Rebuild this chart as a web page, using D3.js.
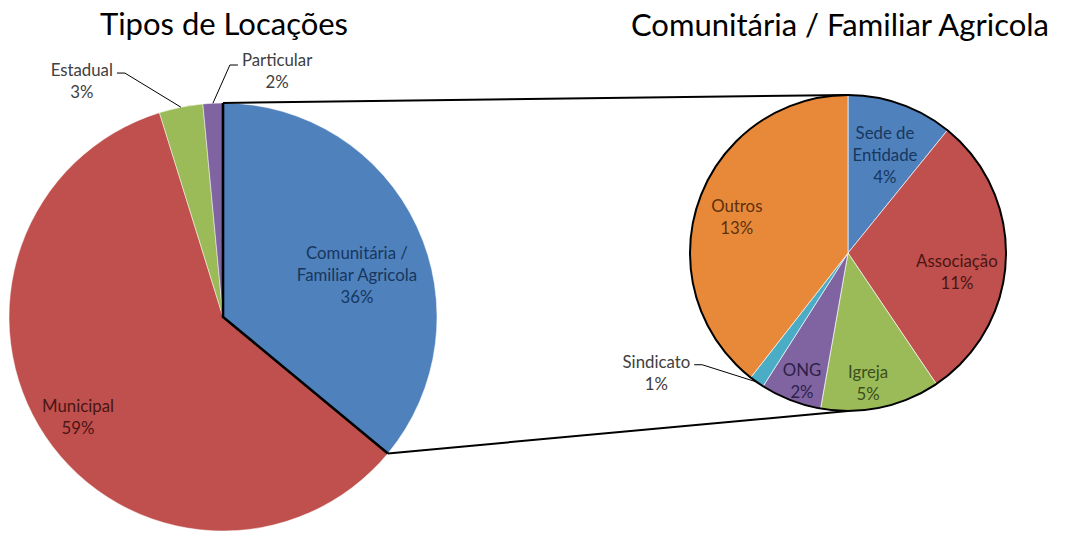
<!DOCTYPE html>
<html><head><meta charset="utf-8">
<script src="https://cdn.jsdelivr.net/npm/d3@7"></script>
<style>
body{margin:0;background:#fff}
svg{display:block}
text{font-family:Lato,"Open Sans",sans-serif}
</style>
</head><body>
<svg id="c" width="1068" height="536"></svg>
<script>
// ---- data ----
const mainTitle = "Tipos de Locações";
const subTitle = "Comunitária / Familiar Agricola";
const mainCategories = ["Comunitária / Familiar Agricola", "Municipal", "Estadual", "Particular"];
const mainValues = [36, 59.2, 3.3, 1.5];
const mainLabels = ["36%", "59%", "3%", "2%"];
const subCategories = ["Sede de Entidade", "Associação", "Igreja", "ONG", "Sindicato", "Outros"];
const subValues = [3.9, 10.7, 4.4, 2.25, 0.55, 14.2];
const subLabels = ["4%", "11%", "5%", "2%", "1%", "13%"];

// ---- layout / style ----
const mainColors = ["#4F81BD", "#C0504D", "#9BBB59", "#8064A2"];
const mainText = ["#17375E", "#4a1514", "#404040", "#404040"];
const subColors = ["#4F81BD", "#C0504D", "#9BBB59", "#8064A2", "#4BACC6", "#E8893A"];
const subText = ["#17375E", "#4a1514", "#3b4f1c", "#2e2148", "#404040", "#5e300c"];
const mainLines = [["Comunitária /", "Familiar Agricola"], ["Municipal"], ["Estadual"], ["Particular"]];
const subLines = [["Sede de", "Entidade"], ["Associação"], ["Igreja"], ["ONG"], ["Sindicato"], ["Outros"]];
// label placement in polar terms: [angle deg, radius factor, leader]
const mainLabelPos = [[72.6, 0.656, false], [235.5, 0.822, false], [329.1, 1.285, true], [12.4, 1.177, true]];
const subLabelPos = [[20.6, 0.665, false], [100.1, 0.70, false], [171.2, 0.83, false], [199.8, 0.86, false], [238, 1.43, true], [288, 0.74, false]];

const M = {cx: 223, cy: 317, r: 214};
const S = {cx: 848, cy: 253, r: 158};
const fs = 16.8, lh = 22;

const svg = d3.select("#c");
const rad = d => d * Math.PI / 180;
const polar = (P, a, k) => [P.cx + k * P.r * Math.sin(a), P.cy - k * P.r * Math.cos(a)];

// titles
svg.append("text").attr("x", 224).attr("y", 35).attr("text-anchor", "middle")
  .attr("font-size", 31).attr("fill", "#000").text(mainTitle);
svg.append("text").attr("x", 840).attr("y", 36).attr("text-anchor", "middle")
  .attr("font-size", 31).attr("fill", "#000").text(subTitle);

const pie = d3.pie().sort(null).startAngle(0).endAngle(2 * Math.PI);

function drawPie(P, vals, colors, strokeCol, strokeW) {
  const arcs = pie(vals);
  const arc = d3.arc().innerRadius(0).outerRadius(P.r);
  const g = svg.append("g").attr("transform", `translate(${P.cx},${P.cy})`);
  g.selectAll("path").data(arcs).join("path")
    .attr("d", arc)
    .attr("fill", (d, i) => colors[i])
    .attr("stroke", strokeCol).attr("stroke-width", strokeW).attr("stroke-opacity", 0.8);
  return arcs;
}

const mainArcs = drawPie(M, mainValues, mainColors, "#fff", 0.6);
const subArcs = drawPie(S, subValues, subColors, "#fff", 0.8);

svg.append("circle").attr("cx", S.cx).attr("cy", S.cy).attr("r", S.r)
  .attr("fill", "none").attr("stroke", "#000").attr("stroke-width", 2);

const a0 = mainArcs[0].startAngle, a1 = mainArcs[0].endAngle;
const pTop = polar(M, a0, 1), pEnd = polar(M, a1, 1);
svg.append("path")
  .attr("d", d3.line()([pTop, [M.cx, M.cy], pEnd]))
  .attr("fill", "none").attr("stroke", "#000").attr("stroke-width", 2.6).attr("stroke-linejoin", "miter");
svg.append("path")
  .attr("d", d3.line()([pTop, polar(S, 0, 1)]))
  .attr("fill", "none").attr("stroke", "#000").attr("stroke-width", 2);
svg.append("path")
  .attr("d", d3.line()([pEnd, polar(S, Math.PI, 1)]))
  .attr("fill", "none").attr("stroke", "#000").attr("stroke-width", 2);

function drawLabels(P, arcs, lines, pcts, pos, colors) {
  arcs.forEach((d, i) => {
    const [ang, k, leader] = pos[i];
    const all = lines[i].concat([pcts[i]]);
    const [x, y] = polar(P, rad(ang), k);
    const n = all.length;
    const first = y - ((n - 1) * lh) / 2 + fs * 0.36;
    const t = svg.append("text").attr("text-anchor", "middle")
      .attr("font-size", fs).attr("fill", colors[i]);
    all.forEach((s, j) => t.append("tspan").attr("x", x).attr("y", first + j * lh).text(s));
    if (leader) {
      const mid = (d.startAngle + d.endAngle) / 2;
      const target = polar(P, mid, 1);
      const w = t.select("tspan").node().getComputedTextLength();
      const toRight = target[0] > x;
      const sx = toRight ? x + w / 2 + 4 : x - w / 2 - 4;
      const sy = first - fs * 0.3 + (toRight ? 2 : 4);
      const kx = toRight ? sx + 8 : sx - 8;
      svg.append("path").attr("d", d3.line()([[sx, sy], [kx, sy], target]))
        .attr("fill", "none").attr("stroke", "#000").attr("stroke-width", 1);
    }
  });
}
drawLabels(M, mainArcs, mainLines, mainLabels, mainLabelPos, mainText);
drawLabels(S, subArcs, subLines, subLabels, subLabelPos, subText);
</script>
</body></html>
